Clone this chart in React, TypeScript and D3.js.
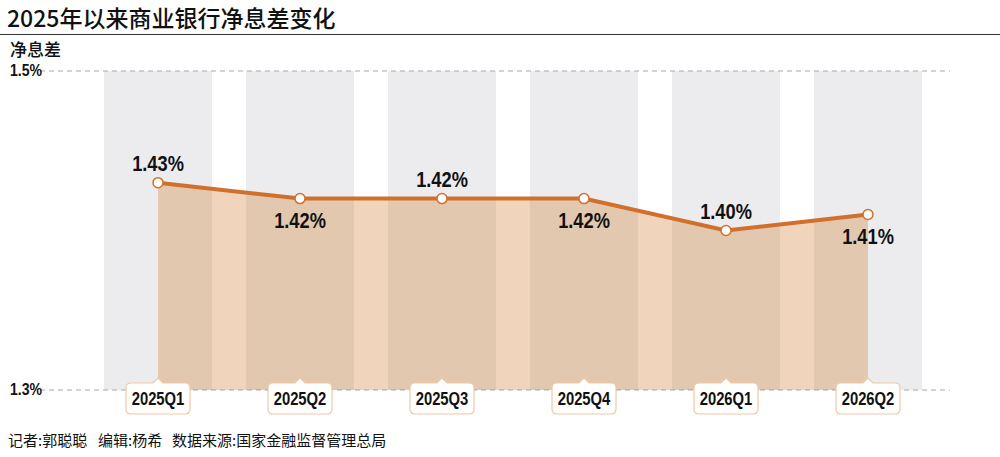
import React, { useEffect, useRef } from "react";
import * as d3 from "d3";

const quarters = ["2025Q1", "2025Q2", "2025Q3", "2025Q4", "2026Q1", "2026Q2"];
const nim = [1.43, 1.42, 1.42, 1.42, 1.4, 1.41];
// where the value label sits relative to the point
const labelSide = ["up", "down", "up", "down", "up", "down"];
const yTicks = [1.3, 1.5];
const credits = ["记者:郭聪聪", "编辑:杨希", "数据来源:国家金融监督管理总局"];

const W = 1000;
const H = 457;
const ORANGE = "#d0702c";
const SANS = "'Liberation Sans', Arial, sans-serif";
const CJK = "'Noto Sans CJK SC', sans-serif";

const App: React.FC = () => {
  const svgRef = useRef<SVGSVGElement | null>(null);

  useEffect(() => {
    if (!svgRef.current) return;
    const svg = d3.select(svgRef.current);
    svg.selectAll("*").remove();

    const x = d3.scalePoint<string>().domain(quarters).range([158, 868]);
    const y = d3.scaleLinear().domain([1.3, 1.5]).range([390, 71]);
    const bandW = 108;

    // title + rule
    svg.append("text")
      .attr("x", 7).attr("y", 27)
      .attr("font-family", CJK).attr("font-size", 23).attr("font-weight", 500)
      .attr("fill", "#111")
      .text("2025年以来商业银行净息差变化");
    svg.append("line")
      .attr("x1", 0).attr("x2", W).attr("y1", 34.5).attr("y2", 34.5)
      .attr("stroke", "#333").attr("stroke-width", 1);
    svg.append("text")
      .attr("x", 10).attr("y", 56)
      .attr("font-family", CJK).attr("font-size", 17).attr("font-weight", 500)
      .attr("fill", "#111")
      .text("净息差");

    // gray column bands
    svg.append("g").selectAll("rect")
      .data(quarters)
      .join("rect")
      .attr("x", d => (x(d) ?? 0) - bandW / 2)
      .attr("y", y(1.5))
      .attr("width", bandW)
      .attr("height", y(1.3) - y(1.5))
      .attr("fill", "#ececee");

    // gridlines
    svg.append("g").selectAll("line")
      .data(yTicks)
      .join("line")
      .attr("x1", 40).attr("x2", 950)
      .attr("y1", d => y(d)).attr("y2", d => y(d))
      .attr("stroke", "#aaa").attr("stroke-width", 1.2)
      .attr("stroke-dasharray", "5,4");

    svg.append("g").selectAll("text")
      .data(yTicks)
      .join("text")
      .attr("transform", d => `translate(10,${y(d) + 5}) scale(0.88,1)`)
      .attr("font-family", SANS).attr("font-size", 16).attr("font-weight", 700)
      .attr("fill", "#111")
      .text(d => d.toFixed(1) + "%");

    const pts = quarters.map((q, i) => ({ q, v: nim[i], side: labelSide[i] }));

    // area
    const area = d3.area<typeof pts[0]>()
      .x(d => x(d.q) ?? 0)
      .y0(y(1.3))
      .y1(d => y(d.v));
    svg.append("path")
      .datum(pts)
      .attr("d", area)
      .attr("fill", "#cc7420")
      .attr("fill-opacity", 0.3);

    // line
    const line = d3.line<typeof pts[0]>()
      .x(d => x(d.q) ?? 0)
      .y(d => y(d.v));
    svg.append("path")
      .datum(pts)
      .attr("d", line)
      .attr("fill", "none")
      .attr("stroke", ORANGE)
      .attr("stroke-width", 4);

    svg.append("g").selectAll("circle")
      .data(pts)
      .join("circle")
      .attr("cx", d => x(d.q) ?? 0)
      .attr("cy", d => y(d.v))
      .attr("r", 5)
      .attr("fill", "#fff")
      .attr("stroke", ORANGE)
      .attr("stroke-width", 1.5);

    // value labels
    svg.append("g").selectAll("text")
      .data(pts)
      .join("text")
      .attr("transform", d =>
        `translate(${x(d.q) ?? 0},${y(d.v) + (d.side === "up" ? -12 : 29)}) scale(0.83,1)`)
      .attr("text-anchor", "middle")
      .attr("font-family", SANS).attr("font-size", 22).attr("font-weight", 700)
      .attr("fill", "#111")
      .text(d => d.v.toFixed(2) + "%");

    // category callout boxes
    const bw = 64, bh = 31, top = 383, r = 5, tip = 5;
    const g = svg.append("g").selectAll("g")
      .data(quarters)
      .join("g")
      .attr("transform", d => `translate(${x(d) ?? 0},0)`);
    g.append("path")
      .attr("d", () => {
        const l = -bw / 2, rr = bw / 2, b = top + bh;
        return `M${l + r},${top} L${-tip},${top} L0,${top - tip} L${tip},${top} L${rr - r},${top}
          Q${rr},${top} ${rr},${top + r} L${rr},${b - r} Q${rr},${b} ${rr - r},${b}
          L${l + r},${b} Q${l},${b} ${l},${b - r} L${l},${top + r} Q${l},${top} ${l + r},${top} Z`;
      })
      .attr("fill", "#fff")
      .attr("stroke", "#f0c8a8")
      .attr("stroke-width", 1.2);
    g.append("text")
      .attr("transform", `translate(0,${top + 22}) scale(0.8,1)`)
      .attr("text-anchor", "middle")
      .attr("font-family", SANS).attr("font-size", 18.5).attr("font-weight", 700)
      .attr("fill", "#111")
      .text(d => d);

    // footer
    const creditX = [8, 98, 172];
    svg.append("g").selectAll("text")
      .data(credits)
      .join("text")
      .attr("x", (_, i) => creditX[i]).attr("y", 446)
      .attr("font-family", CJK).attr("font-size", 15)
      .attr("fill", "#111")
      .text(d => d);
  }, []);

  return (
    <div style={{ position: "absolute", left: 0, top: 0, width: W, height: H, background: "#fff" }}>
      <svg ref={svgRef} width={W} height={H} style={{ display: "block" }} />
    </div>
  );
};

export default App;
